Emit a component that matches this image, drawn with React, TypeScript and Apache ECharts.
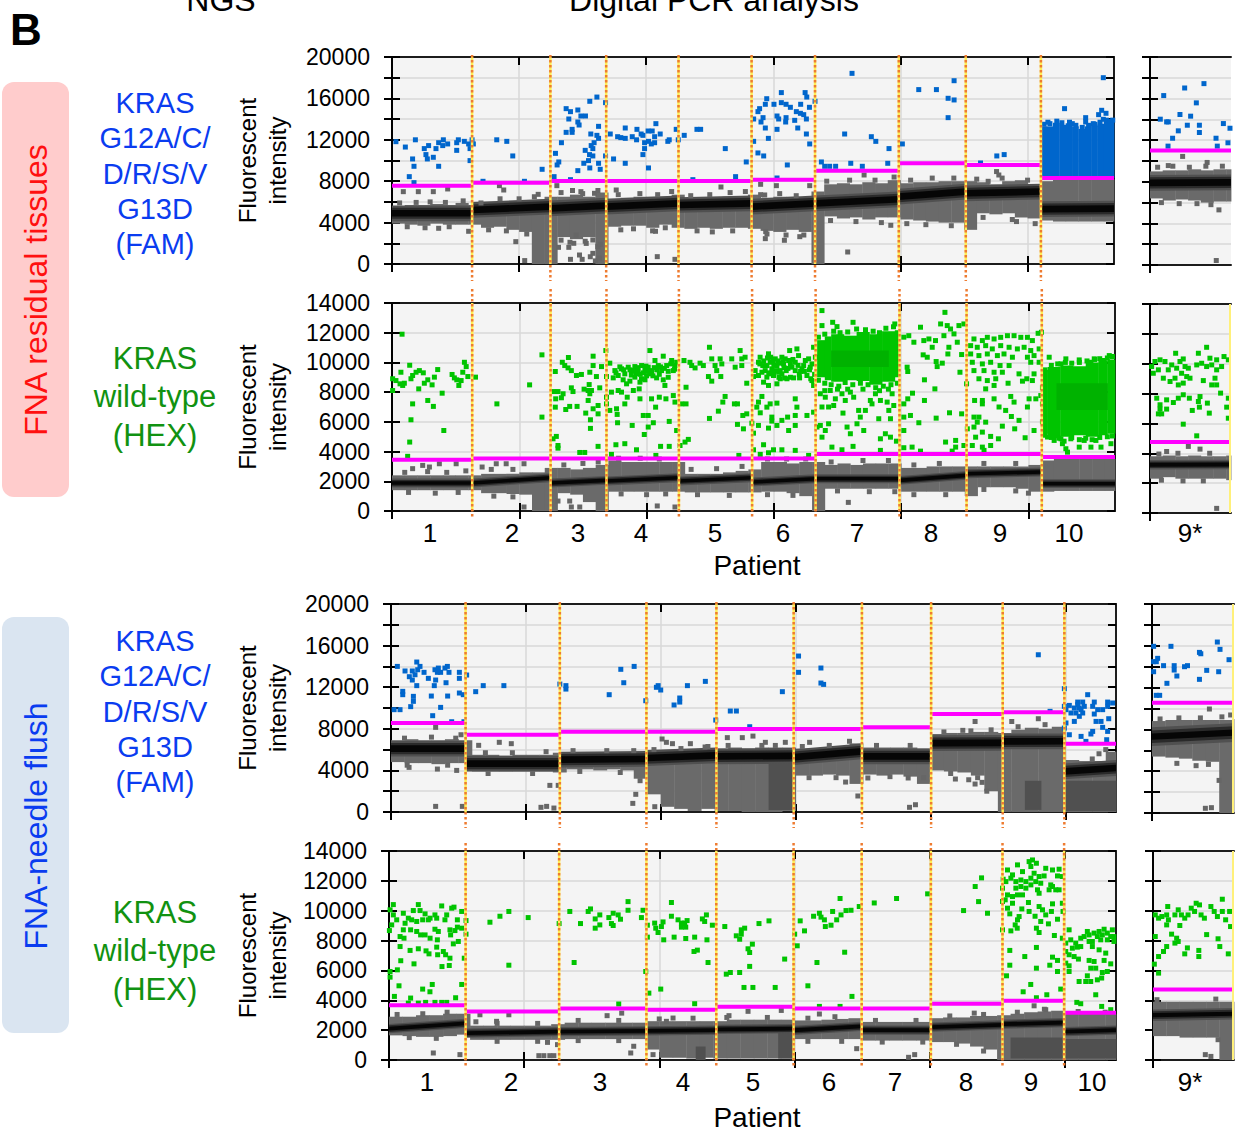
import React, { useEffect, useRef } from "react";
import * as echarts from "echarts";

const FONT = "'Liberation Sans', Arial, sans-serif";

// ---------- patient boundaries (droplet event number) and thresholds ----------
const boundsA = [630, 1246, 1685, 2254, 2829, 3328, 3987, 4514, 5105];
const boundsC = [553, 1252, 1894, 2413, 2986, 3492, 4005, 4536, 4993];
const boundsD = [567, 1259, 1905, 2422, 2994, 3498, 4010, 4540, 4996];
const thresholdsA = [7570, 7860, 8020, 8020, 8020, 8150, 9020, 9730, 9570, 8310];
const thresholdsB = [3450, 3540, 3540, 3540, 3540, 3540, 3830, 3830, 3830, 3630];
const thresholdsC = [8555, 7434, 7720, 7720, 7980, 7980, 8140, 9420, 9580, 6570];
const thresholdsD = [3660, 3250, 3450, 3370, 3570, 3450, 3450, 3770, 3970, 3170];

// ---------- negative droplet band centre [start, end] per patient ----------
const coreA = [[4900, 4900], [5220, 5540], [5380, 5640], [5540, 5860], [5700, 5860], [5540, 5860], [5860, 6250], [6510, 6990], [6830, 7000], [5300, 5350]];
const coreB = [[1880, 1880], [1880, 2240], [1880, 2060], [2020, 2240], [2020, 2240], [1950, 2170], [2170, 2170], [2060, 2400], [2510, 2620], [1840, 1840]];
const coreC = [[6090, 6090], [4650, 4650], [5030, 5100], [5190, 5440], [5350, 5400], [5280, 5830], [5350, 5350], [6630, 6650], [6790, 6800], [3900, 4230]];
const coreD = [[2100, 2450], [1800, 1900], [1900, 1950], [1950, 2000], [2050, 2100], [1990, 2250], [2000, 2000], [2200, 2350], [2400, 2500], [1900, 2000]];

// ---------- upper / lower envelope of grey droplets, one value per 100 events ----------
const topA = [5500,5700,5700,5800,5700,5900,5700,5700,5800,6000,6000,6200,6500,6500,6700,6500,6900,6300,6400,6500,6500,6500,6700,6300,6300,6400,6500,6500,6700,6400,6500,6500,6400,7000,7700,7800,7700,7900,7800,8100,7800,7900,7900,8000,8000,8000,7900,7700,8000,8100,7700,8000,8200,8200,8200,8200,8200];
const botA = [3900,3800,3700,3900,3800,3800,3800,3500,3600,3300,3100,0,0,2600,2400,2600,0,3600,3700,3700,3500,3800,3500,3400,3500,3400,3500,3500,3400,3200,3100,3300,3100,0,4600,4400,4500,4300,4500,4500,4300,4200,4100,4000,4000,3300,4900,4800,4900,4500,4400,4200,4100,4100,4100,4100,4100];
const topB = [2400,2400,2400,2400,2400,2400,2400,2500,2500,2500,2600,2600,2900,2900,2800,2900,3100,3400,3300,3300,3300,3300,3300,2500,2500,2500,2600,2700,2800,3300,3300,3200,3300,3300,3100,3200,3100,3200,3200,3200,2900,2900,3000,3000,3000,3000,3000,3000,3000,3000,3100,3400,3500,3500,3500,3500,3500];
const botB = [1400,1400,1400,1400,1400,1400,1400,1200,1200,1150,1100,0,0,1200,1100,600,0,1300,1300,1300,1300,1300,1300,1250,1250,1250,1250,1250,1250,1300,1300,1200,1000,0,1500,1500,1500,1500,1500,1500,1300,1300,1300,1300,1300,1000,1600,1600,1600,1500,1300,1300,1350,1350,1350,1350,1350];
const topC = [6900,7000,6900,6900,7000,6900,5500,5500,5400,5500,5500,5500,5700,5700,5600,5700,5700,5700,5700,5800,5800,5800,5900,6000,6100,6200,6100,6200,6200,6200,6100,6100,6200,6300,6600,6200,6200,6200,6200,6100,7500,7600,7600,7700,7700,7600,7900,8100,8000,8200,5000,4900,4900,5800];
const botC = [4800,4700,4700,4600,4700,4700,3900,3900,3900,3900,3900,3900,3800,4100,4100,4000,4100,4000,3200,1700,500,300,100,300,100,100,0,0,0,100,3500,3500,3600,3500,2700,3600,3500,3600,3400,2700,4000,3900,3800,3500,2000,0,0,0,0,0,0,0,0,0];
const topD = [2900,2900,3000,3000,3100,3100,2300,2300,2300,2300,2300,2300,2400,2500,2500,2500,2500,2500,2500,2600,2600,2600,2600,2600,2600,2700,2700,2700,2700,2700,2650,2650,2700,2750,2800,2550,2550,2550,2550,2550,2800,2850,2850,2950,2950,3000,3100,3200,3250,3300,3100,3200,3100,3100];
const botD = [1650,1600,1550,1550,1600,1700,1350,1350,1350,1350,1350,1350,1350,1400,1400,1400,1400,1400,1400,700,150,150,100,150,100,100,100,100,100,100,1400,1400,1400,1400,1400,1300,1300,1300,1300,1300,1200,1200,1100,900,700,0,0,0,0,0,0,0,0,0];
const topAS = [9000,9100,9100,9200,9100,9200,9200];
const botAS = [6400,6200,6300,6200,6000,6100,6100];
const topBS = [3800,3850,3800,3850,3800,3800,3850];
const botBS = [2300,2400,2300,2300,2300,2300,2200];
const topCS = [8800,8900,8900,8900,8900,8900,9000];
const botCS = [5400,5300,5200,5000,4900,0,0];
const topDS = [3900,3900,3900,3900,3900,3900,3900];
const botDS = [1600,1600,1500,1500,1500,0,0];

// darker rain patches [x0, x1, y0, y1]
const darkC = [[2800,2986,200,5000],[4700,4820,200,3000],[5000,5376,100,3000]];
const darkD = [[2270,2340,0,900],[2880,2994,100,2000],[4600,4996,100,1500],[5000,5380,100,1400]];

// saturated droplet clouds [x0, x1, y0, y1]
const denseBlueA = [[5105,5200,8300,13300],[5200,5250,8300,13650],[5250,5300,8300,13450],[5300,5350,8300,13600],[5350,5400,8300,13300],[5400,5450,8300,13050],[5450,5500,8300,13300],[5500,5550,8300,13400],[5550,5600,8300,13550],[5600,5680,8300,13750]];
const denseGreenB = [[3340,3400,9000,11500],[3400,3450,8800,11750],[3450,3550,8700,11900],[3550,3650,8800,11800],[3650,3750,8750,12050],[3750,3850,8500,11900],[3850,3950,8700,12100],[3950,3987,9000,11900],[5110,5150,5200,9500],[5150,5250,4900,9700],[5250,5350,5000,9800],[5350,5450,5100,9750],[5450,5550,5000,10000],[5550,5620,5100,10100],[5620,5680,5200,10200]];
const denseGreenDark = [[3450,3900,9700,10800],[5220,5620,6800,8600]];

// ---------- droplets, flat lists x,y,x,y,... ----------
const blueA = [31,11820,105,11300,184,12000,162,10150,173,9440,136,8440,173,7860,254,11150,288,11440,267,10570,278,10150,325,10310,367,9440,346,11150,367,11720,404,12000,399,11440,438,11600,509,10980,509,11720,522,12000,569,11850,603,11600,614,11150,630,12000,640,11600,614,9990,716,7990,824,12000,903,11850,950,10440,1042,7990,1181,9150,1275,8440,1286,10690,1312,9860,1299,9570,1333,11720,1370,15010,1404,14720,1462,14880,1391,14010,1370,12720,1417,13010,1417,12720,1462,13720,1472,13430,1486,14300,1522,14300,1556,15720,1612,16130,1680,15590,1564,12560,1612,12430,1625,12140,1625,13300,1590,11720,1567,11440,1520,10980,1580,11150,1554,10570,1580,10440,1546,9990,1509,9730,1462,9020,1556,9280,1625,9730,1638,9150,1680,10440,1404,8150,1717,12560,1775,12300,1800,12210,1835,12140,1835,13140,1890,12300,1927,13010,1924,12000,1960,12560,1974,12430,2015,12850,2047,12850,2066,12300,1987,11720,2018,11850,2066,11720,2040,11600,1987,11150,1974,10570,2076,13560,2110,12560,2170,11850,2181,12000,2236,13010,2252,12000,1743,10150,1835,9730,2018,9280,2299,12430,2367,8150,2399,13010,2428,13010,2622,11150,2703,8440,2787,9860,2845,14010,2845,11850,2879,10730,2924,10440,2961,12140,3029,13010,3110,9570,3029,8310,2879,14720,2892,15010,2903,13720,2919,14140,2937,13140,2937,15430,2948,15970,3005,15430,3029,14300,3042,14010,3063,16560,3063,15590,3100,15430,3134,15140,3100,14140,3097,13720,3168,13880,3192,13140,3181,14720,3213,14560,3215,15430,3239,14430,3260,14010,3250,16560,3263,16130,3284,15140,3260,12560,3286,11600,3328,15720,3561,12560,3378,9860,3404,9440,3443,9440,3490,9440,3609,9730,3700,9440,3619,18420,3771,12300,3806,11850,3910,11150,3900,9730,4015,11600,4144,16850,4283,16850,4422,17710,4375,16010,4422,15850,4375,14140,4630,9760,4758,10440,4816,10570,5291,15010,5596,18000,5352,13560,5457,14140,5457,13720,5517,13560,5583,14850,5617,14560,5559,14430,5596,13980,5176,13560,
5130,13500,5160,13700,5230,13800,5270,13650,5330,13700,5380,13400,5430,13200,5480,13400,5530,13500,5570,13700,5620,13900,5650,13800,5670,13900];
const blueAS = [108,16290,273,17020,425,17440,365,15590,81,14020,131,13760,144,13760,236,14470,320,14310,223,12900,294,13440,389,13440,389,12740,178,12190,142,11430,520,12190,530,11430,578,13600,614,11750,630,13150];
const grayA = [89,6990,207,6990,325,6990,438,7250,367,3450,603,3160,845,7570,879,7150,974,2160,1044,330,1150,6730,1297,7570,1486,6990,1593,6830,1764,7150,1310,1610,1391,1610,1404,450,1475,870,1496,450,1580,1030,1580,2320,1619,1680,1632,550,1528,1990,1449,2800,1600,300,1560,700,1430,2000,1640,1900,2073,3160,2087,710,2226,450,2588,7440,2900,7700,3024,7570,2932,6670,2940,3130,2937,2450,3087,2290,3208,2640,3286,7570,3585,1160,3924,3740,3714,8600,4756,8930,4774,8600,4690,7990,4913,4100,
60,5900,190,5950,300,6000,420,5950,560,6100,120,3600,260,3500,450,3600,700,5900,850,6300,1000,6300,1120,6500,760,3300,900,3200,1060,2900,1330,6900,1420,7100,1500,6800,1620,7100,1330,2300,1400,2100,1520,2200,1780,6700,1950,6800,2090,6700,2200,7000,1800,3300,1900,3400,2050,3200,2150,3500,2350,6600,2500,6700,2660,6900,2780,7000,2400,3200,2520,3100,2680,3200,2900,6700,3050,6800,3180,6600,2950,2900,3100,2800,3240,2800,3420,8000,3600,8100,3800,8100,3950,8400,3450,4200,3650,4100,3850,4000,4080,8100,4250,8300,4420,8300,4050,3900,4200,3800,4400,3700,4600,8200,4800,8300,5000,8100,4650,4500,4880,4300,5060,3900];
const grayAS = [522,430,257,10440,144,9560,450,9860,543,5300,60,9400,180,9500,310,9400,440,9500,570,9500,90,6000,230,5900,370,5900,480,5800];
const greenB = [79,11900,5,8900,70,9340,31,8780,63,8560,84,8450,97,8600,139,9810,149,8900,162,9120,189,9340,215,9450,246,9300,210,8220,254,8600,281,8830,315,8490,333,9010,359,9520,472,9190,490,8960,509,8830,525,8450,543,8780,556,9340,569,10010,583,9720,596,9050,656,9010,162,7210,281,7440,325,7040,394,7930,149,6140,407,5420,139,4640,123,3680,5,8110,
824,7210,1081,8490,1178,10510,1178,6320,
1283,9390,1338,10010,1386,10330,1357,9790,1383,9630,1409,9450,1449,9120,1488,9190,1580,10420,1580,9790,1554,9340,1606,9050,1646,9720,1680,10800,1685,9050,1270,8040,1304,8040,1344,7890,1286,7550,1331,7620,1409,8290,1422,8040,1509,8200,1541,8110,1567,8110,1549,8510,1632,8290,1541,7440,1554,7890,1685,7660,1283,6990,1365,6830,1396,7040,1454,7040,1580,6880,1619,7100,1522,6590,1619,6540,1559,6140,1559,5560,1265,4860,1291,5020,1304,4410,1304,4230,1475,3940,1514,3940,1619,4350,1685,7210,
1711,9950,1751,9450,1777,9120,1803,9570,1829,9230,1856,9680,1882,9410,1908,9720,1934,9450,1961,9790,1987,9500,2013,9680,2039,9340,2066,10130,2092,9790,2131,10420,2118,9450,2158,9790,2197,10130,2223,9790,2210,9450,1816,8830,1869,8740,1908,9010,1948,8670,1987,8830,2026,9230,2079,8960,2131,8830,2144,8450,1843,8560,1738,8960,2026,10800,2236,10010,1724,8000,1777,8110,1803,8000,1848,7660,1896,8110,1942,8220,1948,7550,1829,7210,1764,6880,1769,6500,1711,6770,2039,7550,2100,7660,2152,7550,2210,7770,2071,6990,2223,7330,1974,6430,2013,6430,1772,5940,1887,5760,2013,5650,2053,5940,2178,6030,1982,5150,1759,4460,1829,4530,1921,4120,2110,4350,2178,4350,1724,3810,2073,3740,2236,5420,
1760,9300,1790,9700,1820,9500,1870,9500,1900,9450,1920,9250,1950,9200,1975,9300,2000,9400,2030,9450,2060,9650,2080,9500,2110,9700,2140,9600,2170,9400,2190,9900,2220,9550,1880,9150,1960,8900,2000,9100,2050,9100,2100,9200,2170,9000,1930,9650,1995,9750,
2263,4410,2302,4640,2328,4820,2276,7210,2310,7210,2310,8330,2294,10130,2341,10010,2381,9630,2420,9950,2446,9790,2354,9790,2494,11020,2486,9050,2512,8740,2512,10240,2538,9790,2551,9450,2578,10240,2591,9900,2583,9050,2669,10240,2696,9680,2735,10800,2748,10240,2774,10350,2748,9790,2617,7710,2599,7330,2564,6720,2494,6230,2690,7210,2714,7210,2756,6430,2787,6540,2714,5830,2761,5530,2787,8600,2827,5910,2725,3740,
2840,9050,2853,9450,2879,10010,2892,10350,2913,9790,2932,9450,2945,9010,2958,10580,2971,10010,2984,9570,2997,9120,3011,10240,3024,9790,3037,9340,3050,8900,3063,10350,3076,9900,3097,9450,3116,10130,3124,10800,3142,9680,3168,10010,3181,10910,3194,10460,3202,8960,3221,9570,3247,10130,3273,10240,3286,9680,3312,11020,3326,10350,3260,9120,3299,8780,3312,8450,3155,8960,3103,8900,2919,8670,2958,8450,3024,8560,3050,9450,2992,10130,3089,10240,2879,9120,2906,9340,2945,9790,2977,9230,3019,9450,3063,9230,3168,9450,3234,9790,2906,7710,2879,7330,2866,6990,2893,6610,2945,6990,2971,7210,3024,7260,3168,7550,2984,6320,2984,6050,3063,6100,3108,6320,3168,6430,3181,6990,3260,6430,3312,6650,3024,5760,3116,5420,2958,5580,3168,5760,2879,5760,2840,5240,2919,4460,2840,4120,2958,3920,2997,4120,3063,4120,3168,4080,2893,3810,3273,3740,3339,5650,
2890,9900,2920,10100,2950,10300,2975,10350,3000,9800,3030,10100,3045,9950,3070,10050,3080,9650,3110,9600,3130,9900,3150,10200,3190,9800,3210,9400,3240,9400,3280,9500,3300,9900,3320,9200,2960,9300,2990,9300,3040,9000,3085,8950,3130,9000,3200,9200,3290,8900,
3378,13490,3378,12480,3462,12700,3496,12410,3622,12700,3950,12590,3365,7890,3404,7660,3443,8110,3483,7550,3378,7000,3430,7000,3535,7890,3561,7440,3601,8000,3627,7660,3666,6770,3719,6770,3758,7440,3798,7890,3837,7440,3890,7330,3929,7890,3942,7100,3903,6770,3365,5760,3430,5870,3404,5420,3575,5650,3601,5200,3653,5870,3706,5420,3378,4970,3876,5200,3837,4860,3916,4970,3963,4700,3456,4300,3535,4120,3622,4350,3837,4080,3679,6320,3824,6210,3916,6210,3543,6590,3470,7100,3771,7210,
3350,11700,3400,11900,3470,12100,3520,12000,3580,12050,3650,12250,3720,12200,3780,12100,3830,12000,3880,12300,3940,12400,3970,12000,3350,8800,3400,8600,3450,8500,3510,8400,3560,8650,3620,8500,3680,8600,3740,8500,3800,8300,3860,8400,3920,8500,3970,8600,3400,8100,3500,8200,3580,8200,3700,8200,3830,8100,3900,8200,
4021,11700,4060,11800,4100,11360,4152,12370,4178,11470,4218,11580,4270,11470,4244,11020,4173,10510,4205,10350,4310,12590,4344,13370,4362,12480,4336,11800,4388,12250,4415,11920,4454,12480,4493,12590,4441,11360,4375,11020,4367,10570,4475,10530,4323,9950,4275,10060,4283,9720,4462,9340,4047,9680,4052,9390,4183,8830,4265,8220,4089,7930,4183,7440,4052,7550,4021,7210,4073,6430,4021,6320,4139,5940,4275,6250,4380,6610,4475,6540,4021,5420,4349,4640,4428,4750,4428,4300,4086,4300,4021,4260,4152,4030,4401,4030,4493,4410,
4572,11580,4638,11470,4677,11690,4730,11580,4782,11690,4835,11800,4887,11800,4940,11690,4992,11690,5031,11470,5076,11960,5102,12030,4546,11130,4598,11020,4664,11130,4716,10910,4782,11130,4848,11020,4913,10910,4966,11020,5018,10800,5084,10910,4546,10570,4611,10460,4677,10570,4756,10460,4808,10570,4874,10350,4992,10350,5044,10460,4559,10010,4638,9900,4703,10010,4777,9790,4848,9790,5018,10010,5084,10010,4572,9450,4651,9450,4730,9340,4795,9340,4926,9230,4987,8900,5044,9230,4611,8900,4677,8780,4743,8900,4840,8600,4953,8740,5031,8780,4664,8220,4730,8450,4514,8560,4577,7440,4638,7440,4730,7550,4861,7710,4638,7210,4769,7000,4887,7330,4992,7000,5005,7550,5058,7550,5097,7770,4821,6770,4866,6360,4926,6100,4572,6320,4611,6320,4598,5980,4664,5980,4520,5530,4572,5650,4638,5310,4795,5710,4892,5530,5044,5420,4585,4970,4703,5020,4764,4860,4974,4930,4559,4410,4638,4300,4703,4410,4651,4080,
5163,10350,5294,10240,5399,10170,5517,10240,5635,10460,5491,10010,5596,10130,5255,9900,5202,4750,5267,4530,5294,4190,5399,4300,5491,4300,5570,4300,5648,4530,5333,4860,5438,4750,5150,4980,5255,4860,5307,3960,5530,4750,
5130,9500,5180,9800,5230,9900,5290,10000,5340,9950,5400,10000,5460,10100,5520,10200,5560,10250,5620,10300,5660,10400,5130,5100,5180,4950,5240,4900,5280,4700,5340,4950,5400,4800,5450,4900,5500,4800,5560,4950,5620,5000,5660,5050,5110,6000,5110,7200,5110,8300];
const greenBS = [13,9810,39,10150,79,10260,118,10150,26,9360,66,9590,105,9030,144,9590,171,9920,202,10700,210,9700,236,10150,262,10320,276,9810,249,9360,302,9700,289,9140,197,9030,158,8810,223,8580,262,8700,315,9030,381,10700,446,11100,368,9920,407,10030,446,9810,486,9920,525,9590,472,10370,525,10260,583,10480,617,10260,564,9810,420,8870,512,9030,525,8580,486,8580,53,7690,79,7250,79,6960,131,7580,184,7400,223,7690,262,7920,310,7690,394,7800,381,7470,333,6870,389,7090,452,7360,467,6690,556,8030,617,7690,604,7090,131,6960,66,6640,92,6640,262,5950,368,5170,617,6350];
const grayB = [1037,270,2084,340,2223,270,1304,670,1396,670,1409,270,1475,270,819,3180,897,3180,1037,3180,708,2960,162,2850,241,3070,294,2960,372,3180,504,3180,3585,580,
100,2600,280,2650,430,2600,580,2700,780,2800,950,2800,130,1250,340,1200,520,1250,800,1000,950,950,1350,3100,1500,3200,1620,3300,1780,3550,1950,3550,2100,3500,1800,1150,2000,1100,2150,1150,2350,2800,2550,2850,2750,3000,2400,1100,2650,1050,2950,3500,3100,3500,3250,3500,2950,1100,3150,1050,3450,3300,3700,3400,3900,3400,3500,1350,3750,1300,3950,1300,4100,3100,4300,3200,4100,1100,4350,1100,4650,3200,4900,3200,4650,1450,4900,1350,5000,1200];
const grayBS = [525,310,131,4120,302,4460,394,4280,70,3950,220,4000,470,4000,90,2200,260,2150,420,2150];
const blueC = [47,14000,104,13560,158,13560,191,14420,215,14000,198,13680,245,13430,178,13200,136,13010,158,12690,191,12150,277,12850,331,12690,321,12150,326,13680,351,13840,344,13430,368,13430,400,13840,418,14000,430,13430,507,13430,507,12850,408,12430,87,11600,87,11280,166,11120,166,10640,299,11150,420,11150,507,11440,536,11280,146,10130,23,9840,67,9840,368,10060,309,9260,450,8680,541,8680,561,13170,628,11570,684,12150,837,12150,1252,12300,1297,12150,1297,11820,1618,11280,1704,13720,1726,12430,1803,14000,1889,10700,1968,11990,1981,12150,2000,11730,2198,12150,2331,12560,2099,10290,2141,10570,2141,10960,2408,8840,2516,9710,2561,9710,2660,8200,2902,11570,3022,14996,3022,13430,3188,13844,3188,12400,3208,12270,4800,15120,
5166,11280,5092,10570,5129,10570,5215,10570,5314,10570,5351,10480,5030,10250,5067,10000,5104,10000,5141,10160,5203,10160,5240,9840,5277,9840,5314,10160,5005,9840,5042,9520,5079,9520,5129,9520,5215,9420,5104,9200,5067,8710,5005,8560,5228,8710,5265,8710,5322,8970,5277,8140,5203,7750,5190,7500,5030,7430,5117,7270,5314,7750,5153,6790,5307,6950,4993,8070,5117,9840,5092,10320,4993,10160,4993,11860,4887,9680];
const blueCS = [12,15950,141,15950,486,16360,506,15660,353,15370,363,15240,573,14670,42,14800,12,14480,32,14480,12,13520,86,14100,165,14100,165,13680,185,13110,242,14000,264,14100,407,13650,496,13520,353,12790,111,12410,32,11260,57,11260];
const grayC = [331,8140,519,7430,650,6410,803,6700,892,6570,134,4290,344,4130,487,4000,331,540,529,540,1178,2560,1240,2560,1112,450,1154,540,1208,380,1847,3010,1815,1700,1793,830,1956,510,2010,7020,2042,6700,2087,6570,2220,6570,2329,6250,2494,7150,2605,7150,2684,7300,2776,6700,2924,6700,3104,6700,3371,2880,3536,3270,3462,1540,3845,450,3889,700,3835,3270,4331,8700,4240,7850,4185,3170,4284,3100,4331,2690,4383,2850,4418,2000,4603,8700,4800,8970,
100,7100,300,7200,480,7100,120,4500,420,4500,700,5700,900,5700,1150,5800,720,3700,1050,3700,1350,5900,1600,5900,1800,5900,1400,3900,1700,3800,1950,6000,2150,6100,2350,6300,2500,6400,2750,6400,2850,6400,3050,6300,3250,6400,3400,6800,3100,3300,3300,3300,3600,6400,3850,6400,3700,3400,3950,3300,4100,7700,4300,7800,4450,7900,4150,3700,4350,3300,4650,8200,4850,8400,5200,5100,5300,6000,5250,5600];
const grayCS = [427,9950,585,9380,185,4750,328,4530,420,4650,499,3120,397,450,442,510,60,9000,200,9100,360,9100,520,9200];
const greenD = [32,10410,8,10060,32,9720,57,9390,20,9050,3,8670,106,9830,143,9500,180,10010,217,10410,230,10010,267,9790,304,9500,340,9720,390,10320,427,9720,464,10170,481,10240,538,9950,570,9340,119,9160,168,9390,205,9280,249,9390,291,9390,353,9500,414,9390,506,9390,506,8900,538,8830,106,8720,160,8720,205,8610,234,8380,267,8380,304,8160,340,8760,365,8610,358,8050,451,8720,488,8670,456,8380,570,8430,82,8270,111,8160,82,7600,156,7340,217,7450,274,7310,296,7110,353,7560,360,7050,402,7270,419,7050,451,6820,476,7780,513,7940,87,6650,185,6440,392,6260,446,6330,557,6820,8,5930,8,5550,62,6040,74,4970,249,4750,320,5060,303,4570,538,5060,40,4260,160,4150,493,4170,143,3810,217,3810,271,3860,340,3860,390,3860,427,3860,
747,9230,821,9630,887,9950,1030,9540,887,6350,1259,9140,1338,9950,1417,9140,1370,6530,1474,9950,1491,10120,1526,9450,1560,9720,1526,8830,1560,9050,1627,9540,1659,9830,1646,9140,1659,9010,1696,9720,1713,9430,1769,10610,1769,10030,1868,9540,1880,10030,1700,3750,
1912,9030,1912,8230,1966,9170,1974,8830,1991,8540,2028,9250,2016,8940,2033,8050,2090,10550,2090,9630,2110,8230,2139,9390,2164,9170,2164,8900,2188,9170,2206,9340,2196,8900,2196,8140,2262,8230,2257,7270,2282,7360,2319,9450,2349,9720,2336,9280,2353,8050,2393,9030,2361,6530,1900,5930,1923,4480,2011,4750,2262,3770,
2485,8940,2570,8320,2607,8720,2632,8830,2595,8090,2607,8430,2738,9140,2812,9320,2657,7450,2689,7760,2669,7200,2669,6270,2595,5860,2526,5860,2496,5750,2627,4860,2693,4860,2858,4860,2928,6760,3002,8430,3021,7650,3043,9320,3075,8650,3142,9630,3167,6530,3100,4970,3185,9830,3197,9570,3222,9390,3229,8940,3271,9030,3283,9950,3313,9390,3345,9720,3338,10820,3382,10010,3419,10030,3480,10280,3372,7220,3426,4260,3185,3590,3338,3590,3591,10520,3756,10820,3986,11130,4252,10010,4338,11620,4385,12200,4363,10610,4429,9830,
4545,12110,4577,12730,4614,12400,4651,13070,4688,12620,4737,13290,4762,13400,4750,12960,4791,13180,4774,12510,4811,12290,4860,12840,4848,12330,4910,12730,4959,12780,4947,12330,4983,12290,4565,11950,4602,12180,4639,11950,4676,12060,4713,11950,4750,12180,4786,11950,4823,11840,4639,11510,4676,11620,4713,11510,4750,11730,4799,11400,4811,11170,4885,11400,4910,11620,4934,11400,4959,11400,4897,11730,4540,11510,4577,11060,4614,10950,4560,10730,4540,10620,4651,11060,4688,11060,4614,10500,4577,10170,4732,10550,4683,10120,4737,9950,4663,9610,4651,9390,4634,9050,4594,9790,4811,10280,4836,10060,4781,9630,4823,9280,4860,9720,4880,9120,4910,10460,4902,9950,4947,9430,4983,10500,4988,9950,4791,8830,4811,8540,4602,8650,4649,8830,4540,8720,4924,8340,4983,8160,4594,7340,4791,7540,4705,6930,4594,6350,4791,6150,4890,6350,4947,5930,4910,6890,4947,6670,4570,5640,4749,5060,4693,4570,4791,4170,4868,4370,4971,4750,
5033,8720,5168,8610,5255,8610,5292,8760,5353,8720,5365,8270,5008,7830,5045,8050,5082,7830,5119,8160,5144,8270,5181,8380,5218,8500,5242,8270,5279,8380,5316,8500,5341,8270,5365,7940,5316,8050,5267,8050,5205,7940,5181,7940,5057,7490,5094,7560,5008,7270,5033,7050,5070,6930,5119,7600,5205,7600,5255,7380,5304,7160,5292,6670,5181,6670,5218,6600,5341,6440,5008,6490,5033,6310,5102,6760,5033,5930,5193,6150,5230,6150,5279,5860,5316,5930,5168,5640,5242,5370,5274,5490,5107,5260,5156,5260,5193,5260,5230,4370,5090,3860,5119,3770,5274,3590,5341,3370];
const greenDS = [17,9720,42,9500,67,9610,111,10280,103,9720,116,9390,103,9050,165,9720,190,10060,214,9720,239,9500,264,9720,288,10170,325,10500,350,10390,313,9950,362,9720,387,9500,436,10280,461,9950,485,9610,522,10770,522,9950,547,9390,577,9950,584,8940,202,9010,140,8430,178,8160,165,7830,190,7940,17,8270,404,8400,490,8120,503,7600,103,7600,79,7270,42,6930,259,7510,239,7110,345,7340,345,6930,567,7110,10,6420,42,5820];
const grayD = [328,470,525,360,643,2560,796,2590,673,3030,887,3030,1173,1180,1247,1030,1109,290,1146,290,1190,290,1220,290,1614,2970,1722,3140,1789,470,1811,920,1954,360,2053,2590,2102,2810,2516,2970,2903,3320,2657,3260,3185,3080,3461,760,3845,180,3890,360,4331,3140,4774,3630,4860,3370,
60,3050,250,3100,430,3200,150,1500,350,1450,800,2450,1100,2450,800,1250,1100,1250,1400,2650,1700,2650,1400,1300,1700,1300,2000,2750,2250,2800,2500,2850,2800,2850,3100,2800,3300,2900,3100,1250,3350,1250,3600,2650,3900,2650,3650,1200,3950,1200,4150,2950,4400,3050,4200,1050,4400,600,4650,3200,4850,3400,5100,3250,5300,3200];
const grayDS = [394,360,436,240,490,1360,30,4040,473,4080];

const patientLabelsTop: [string, number][] = [["1", 430], ["2", 512], ["3", 578], ["4", 641], ["5", 715], ["6", 783], ["7", 857], ["8", 931], ["9", 1000], ["10", 1069], ["9*", 1190]];
const patientLabelsBottom: [string, number][] = [["1", 427], ["2", 511], ["3", 600], ["4", 683], ["5", 753], ["6", 829], ["7", 895], ["8", 966], ["9", 1031], ["10", 1092], ["9*", 1190]];

const BLUE = "#0066CC";
const GREEN = "#00C400";
const GRAY = "#666666";
const LINE = "#1c1c1c";
const SPLIT = "#d9d9d9";

const pairs = (flat: number[]) => {
  const out: number[][] = [];
  for (let i = 0; i + 1 < flat.length; i += 2) out.push([flat[i], flat[i + 1]]);
  return out;
};

function rectSeries(xi: number, yi: number, rows: number[][], color: string, z: number) {
  return {
    type: "custom", xAxisIndex: xi, yAxisIndex: yi, z, silent: true, data: rows,
    renderItem: (_: any, api: any) => {
      const a = api.coord([api.value(0), api.value(3)]);
      const b = api.coord([api.value(1), api.value(2)]);
      return { type: "rect", shape: { x: a[0], y: a[1], width: b[0] - a[0] + 0.4, height: b[1] - a[1] }, style: { fill: color } };
    },
  };
}
function bandSeries(xi: number, yi: number, rows: number[][], half: number, color: string, z: number) {
  return {
    type: "custom", xAxisIndex: xi, yAxisIndex: yi, z, silent: true, data: rows,
    renderItem: (_: any, api: any) => {
      const x0 = api.value(0), x1 = api.value(1), l = api.value(2), r = api.value(3);
      return {
        type: "polygon",
        shape: { points: [api.coord([x0, l + half]), api.coord([x1, r + half]), api.coord([x1, r - half]), api.coord([x0, l - half])] },
        style: { fill: color },
      };
    },
  };
}
function thresholdSeries(xi: number, yi: number, rows: number[][]) {
  return {
    type: "custom", xAxisIndex: xi, yAxisIndex: yi, z: 8, silent: true, data: rows,
    renderItem: (_: any, api: any) => {
      const a = api.coord([api.value(0), api.value(2)]);
      const b = api.coord([api.value(1), api.value(2)]);
      return { type: "line", shape: { x1: a[0], y1: a[1], x2: b[0], y2: b[1] }, style: { stroke: "#FF00FF", lineWidth: 4 } };
    },
  };
}
function boundarySeries(xi: number, yi: number, xs: number[], yMax: number, up: number, down: number) {
  return {
    type: "custom", xAxisIndex: xi, yAxisIndex: yi, z: 9, silent: true, data: xs.map((x) => [x, 0]),
    renderItem: (_: any, api: any) => {
      const b = api.coord([api.value(0), 0]);
      const t = api.coord([api.value(0), yMax]);
      return {
        type: "group",
        children: [
          { type: "line", shape: { x1: b[0], y1: t[1], x2: b[0], y2: b[1] }, style: { stroke: "#FFEE55", lineWidth: 2.5 } },
          { type: "line", shape: { x1: b[0], y1: t[1] - up, x2: b[0], y2: b[1] + down }, style: { stroke: "#EE7B30", lineWidth: 2.5, lineDash: [2.5, 2.5] } },
        ],
      };
    },
  };
}
function scatter(xi: number, yi: number, flat: number[], color: string, z: number) {
  return { type: "scatter", xAxisIndex: xi, yAxisIndex: yi, z, silent: true, symbol: "rect", symbolSize: 5, itemStyle: { color, opacity: 1 }, data: pairs(flat) };
}

interface Panel {
  left: number; right: number; top: number; bottom: number; xMax: number; yMax: number; yStep: number; labelEvery: number;
  side: boolean; yLabel: boolean; bounds: number[]; thresholds: number[]; core: number[][]; halves: number[];
  haloTop: number[]; haloBot: number[]; dark?: number[][]; grays: number[]; points: number[]; pointColor: string;
  dense?: number[][]; denseColor?: string; denseDark?: number[][]; up: number; down: number; edge?: boolean;
}

function buildOption() {
  const grid: any[] = [], xAxis: any[] = [], yAxis: any[] = [], series: any[] = [];
  const panels: Panel[] = [
    { left: 392, right: 1114, top: 57, bottom: 264, xMax: 5680, yMax: 20000, yStep: 2000, labelEvery: 4000, side: false, yLabel: true, bounds: boundsA, thresholds: thresholdsA, core: coreA, halves: [760, 540, 320], haloTop: topA, haloBot: botA, grays: grayA, points: blueA, pointColor: BLUE, dense: denseBlueA, denseColor: BLUE, up: 2, down: 17 },
    { left: 392, right: 1115, top: 303, bottom: 511, xMax: 5680, yMax: 14000, yStep: 2000, labelEvery: 2000, side: false, yLabel: true, bounds: boundsA, thresholds: thresholdsB, core: coreB, halves: [300, 210, 120], haloTop: topB, haloBot: botB, grays: grayB, points: greenB, pointColor: GREEN, dense: denseGreenB, denseColor: GREEN, denseDark: denseGreenDark, up: 14, down: 8 },
    { left: 391, right: 1116, top: 604, bottom: 812, xMax: 5376, yMax: 20000, yStep: 2000, labelEvery: 4000, side: false, yLabel: true, bounds: boundsC, thresholds: thresholdsC, core: coreC, halves: [760, 540, 320], haloTop: topC, haloBot: botC, dark: darkC, grays: grayC, points: blueC, pointColor: BLUE, up: 2, down: 16 },
    { left: 389, right: 1116, top: 851, bottom: 1060, xMax: 5380, yMax: 14000, yStep: 2000, labelEvery: 2000, side: false, yLabel: true, bounds: boundsD, thresholds: thresholdsD, core: coreD, halves: [310, 220, 130], haloTop: topD, haloBot: botD, dark: darkD, grays: grayD, points: greenD, pointColor: GREEN, up: 8, down: 7 },
    { left: 1150, right: 1231, top: 57, bottom: 265, xMax: 638, yMax: 20000, yStep: 2000, labelEvery: 4000, side: true, yLabel: false, bounds: [], thresholds: [11000], core: [[7900, 7950]], halves: [760, 540, 320], haloTop: topAS, haloBot: botAS, grays: grayAS, points: blueAS, pointColor: BLUE, up: 0, down: 0 },
    { left: 1150, right: 1231, top: 304, bottom: 513, xMax: 638, yMax: 14000, yStep: 2000, labelEvery: 2000, side: true, yLabel: false, bounds: [], thresholds: [4750], core: [[3230, 3250]], halves: [320, 220, 130], haloTop: topBS, haloBot: botBS, grays: grayBS, points: greenBS, pointColor: GREEN, up: 0, down: 0, edge: true },
    { left: 1152, right: 1234, top: 604, bottom: 813, xMax: 610, yMax: 20000, yStep: 2000, labelEvery: 4000, side: true, yLabel: false, bounds: [], thresholds: [10540], core: [[7300, 7700]], halves: [900, 600, 300], haloTop: topCS, haloBot: botCS, grays: grayCS, points: blueCS, pointColor: BLUE, up: 0, down: 0, edge: true },
    { left: 1153, right: 1234, top: 851, bottom: 1060, xMax: 610, yMax: 14000, yStep: 2000, labelEvery: 2000, side: true, yLabel: false, bounds: [], thresholds: [4730], core: [[3000, 3100]], halves: [380, 260, 140], haloTop: topDS, haloBot: botDS, grays: grayDS, points: greenDS, pointColor: GREEN, up: 0, down: 0, edge: true },
  ];

  panels.forEach((p, gi) => {
    grid.push({ left: p.left, top: p.top, width: p.right - p.left, height: p.bottom - p.top, show: true, backgroundColor: "#F4F4F4", borderWidth: 0, containLabel: false });
    const ticks: number[] = [];
    for (let v = 0; v <= p.xMax; v += 1000) ticks.push(v);
    const xBase = { gridIndex: gi, type: "value", min: 0, max: p.xMax, interval: 1000, axisLabel: { show: false }, splitLine: { show: false }, silent: true };
    const xi = xAxis.length;
    xAxis.push({
      ...xBase, position: "bottom",
      axisLine: { onZero: false, lineStyle: { color: LINE, width: 2 } },
      axisTick: { length: 8, inside: false, customValues: ticks, lineStyle: { color: "#000", width: 2 } },
      splitLine: { show: !p.side, lineStyle: { color: SPLIT, width: 1.5 } },
    });
    xAxis.push({ ...xBase, position: "bottom", axisLine: { show: false }, axisTick: { show: !p.side, length: 8, inside: true, customValues: ticks, lineStyle: { color: "#000", width: 2 } } });
    xAxis.push({ ...xBase, position: "top", axisLine: { onZero: false, lineStyle: { color: LINE, width: 2 } }, axisTick: { show: !p.side, length: 8, inside: true, customValues: ticks, lineStyle: { color: "#000", width: 2 } } });

    const yBase = { gridIndex: gi, type: "value", min: 0, max: p.yMax, interval: p.yStep, silent: true };
    const yi = yAxis.length;
    yAxis.push({
      ...yBase, position: "left",
      axisLine: { onZero: false, lineStyle: { color: "#000", width: 2 } },
      axisTick: { length: 8, lineStyle: { color: "#000", width: 2 } },
      splitLine: { show: true, lineStyle: { color: SPLIT, width: 1.5 } },
      axisLabel: {
        show: p.yLabel, margin: 22, fontFamily: FONT, fontSize: 23, color: "#000",
        formatter: (v: number) => (v % p.labelEvery === 0 ? String(v) : ""),
      },
      name: p.yLabel ? "Fluorescent\nintensity" : "", nameLocation: "middle", nameGap: p.left - 292, nameRotate: 90,
      nameTextStyle: { fontFamily: FONT, fontSize: 24, color: "#000", lineHeight: 30, align: "center" },
    });
    yAxis.push({ ...yBase, position: "left", axisLine: { show: false }, axisLabel: { show: false }, splitLine: { show: false }, axisTick: { inside: true, length: 8, lineStyle: { color: "#000", width: 2 } } });
    if (!p.side) {
      yAxis.push({ ...yBase, position: "right", axisLine: { onZero: false, lineStyle: { color: LINE, width: 2 } }, axisLabel: { show: false }, splitLine: { show: false }, axisTick: { inside: true, length: 8, lineStyle: { color: "#000", width: 2 } } });
    }

    const edges = [0, ...p.bounds, p.xMax];
    const haloRows = p.haloTop.map((t, i) => [i * 100, Math.min((i + 1) * 100, p.xMax), p.haloBot[i], t]);
    series.push(rectSeries(xi, yi, haloRows, "#6a6a6a", 2));
    if (p.dark) series.push(rectSeries(xi, yi, p.dark, "#505050", 3));
    const coreRows = p.core.map((c, i) => [edges[i], edges[i + 1], c[0], c[1]]);
    series.push(bandSeries(xi, yi, coreRows, p.halves[0], "#505050", 4));
    series.push(bandSeries(xi, yi, coreRows, p.halves[1], "#2a2a2a", 4));
    series.push(bandSeries(xi, yi, coreRows, p.halves[2], "#060606", 4));
    series.push(scatter(xi, yi, p.grays, GRAY, 5));
    if (p.dense) series.push(rectSeries(xi, yi, p.dense, p.denseColor as string, 6));
    if (p.denseDark) series.push(rectSeries(xi, yi, p.denseDark, "#00B200", 6));
    series.push(scatter(xi, yi, p.points, p.pointColor, 7));
    series.push(thresholdSeries(xi, yi, p.thresholds.map((t, i) => [edges[i], edges[i + 1], t])));
    if (p.bounds.length) series.push(boundarySeries(xi, yi, p.bounds, p.yMax, p.up, p.down));
    if (p.edge) {
      series.push({
        type: "custom", xAxisIndex: xi, yAxisIndex: yi, z: 9, silent: true, data: [[p.xMax, 0]],
        renderItem: (_: any, api: any) => {
          const b = api.coord([p.xMax, 0]);
          const t = api.coord([p.xMax, p.yMax]);
          return { type: "line", shape: { x1: b[0] - 1, y1: t[1], x2: b[0] - 1, y2: b[1] }, style: { stroke: "#FFF07A", lineWidth: 2 } };
        },
      });
    }
  });

  const text = (t: string, x: number, y: number, size: number, fill: string, extra: any = {}) => ({
    type: "text", x, y, rotation: extra.rotation || 0, silent: true, z: 20,
    style: { text: t, fill, font: `${extra.weight || "normal"} ${size}px ${FONT}`, textAlign: "center", textVerticalAlign: "middle" },
  });
  const INK = "#0A3CF0";
  const GR = "#119211";
  const geneBlue = ["KRAS", "G12A/C/", "D/R/S/V", "G13D", "(FAM)"];
  const geneGreen = ["KRAS", "wild-type", "(HEX)"];
  const graphic: any[] = [
    { type: "rect", silent: true, z: 0, shape: { x: 2, y: 82, width: 67, height: 415, r: 12 }, style: { fill: "#FFCCCC" } },
    { type: "rect", silent: true, z: 0, shape: { x: 2, y: 617, width: 67, height: 416, r: 12 }, style: { fill: "#DAE5F1" } },
    text("FNA residual tissues", 36, 290, 32, "#FF1010", { rotation: Math.PI / 2 }),
    text("FNA-needle flush", 36, 826, 32, INK, { rotation: Math.PI / 2 }),
    text("B", 26, 29, 44, "#000", { weight: "bold" }),
    text("NGS", 221, 0, 32, "#000"),
    text("Digital PCR analysis", 714, 0, 32, "#000"),
    text("Patient", 757, 565, 28, "#000"),
    text("Patient", 757, 1117, 28, "#000"),
  ];
  geneBlue.forEach((g, i) => graphic.push(text(g, 155, 103 + i * 35.3, 29, INK)));
  geneGreen.forEach((g, i) => graphic.push(text(g, 155, 358 + i * 38.5, 31, GR)));
  geneBlue.forEach((g, i) => graphic.push(text(g, 155, 641 + i * 35.3, 29, INK)));
  geneGreen.forEach((g, i) => graphic.push(text(g, 155, 912 + i * 38.5, 31, GR)));
  patientLabelsTop.forEach(([t, x]) => graphic.push(text(t, x, 533, 26, "#000")));
  patientLabelsBottom.forEach(([t, x]) => graphic.push(text(t, x, 1082, 26, "#000")));

  return { animation: false, backgroundColor: "#ffffff", grid, xAxis, yAxis, series, graphic };
}

export default function App() {
  const ref = useRef<HTMLDivElement>(null);
  useEffect(() => {
    if (!ref.current) return;
    const chart = echarts.init(ref.current, undefined, { renderer: "svg" });
    chart.setOption(buildOption() as any);
    return () => chart.dispose();
  }, []);
  return <div ref={ref} style={{ position: "absolute", left: 0, top: 0, width: 1246, height: 1131 }} />;
}
